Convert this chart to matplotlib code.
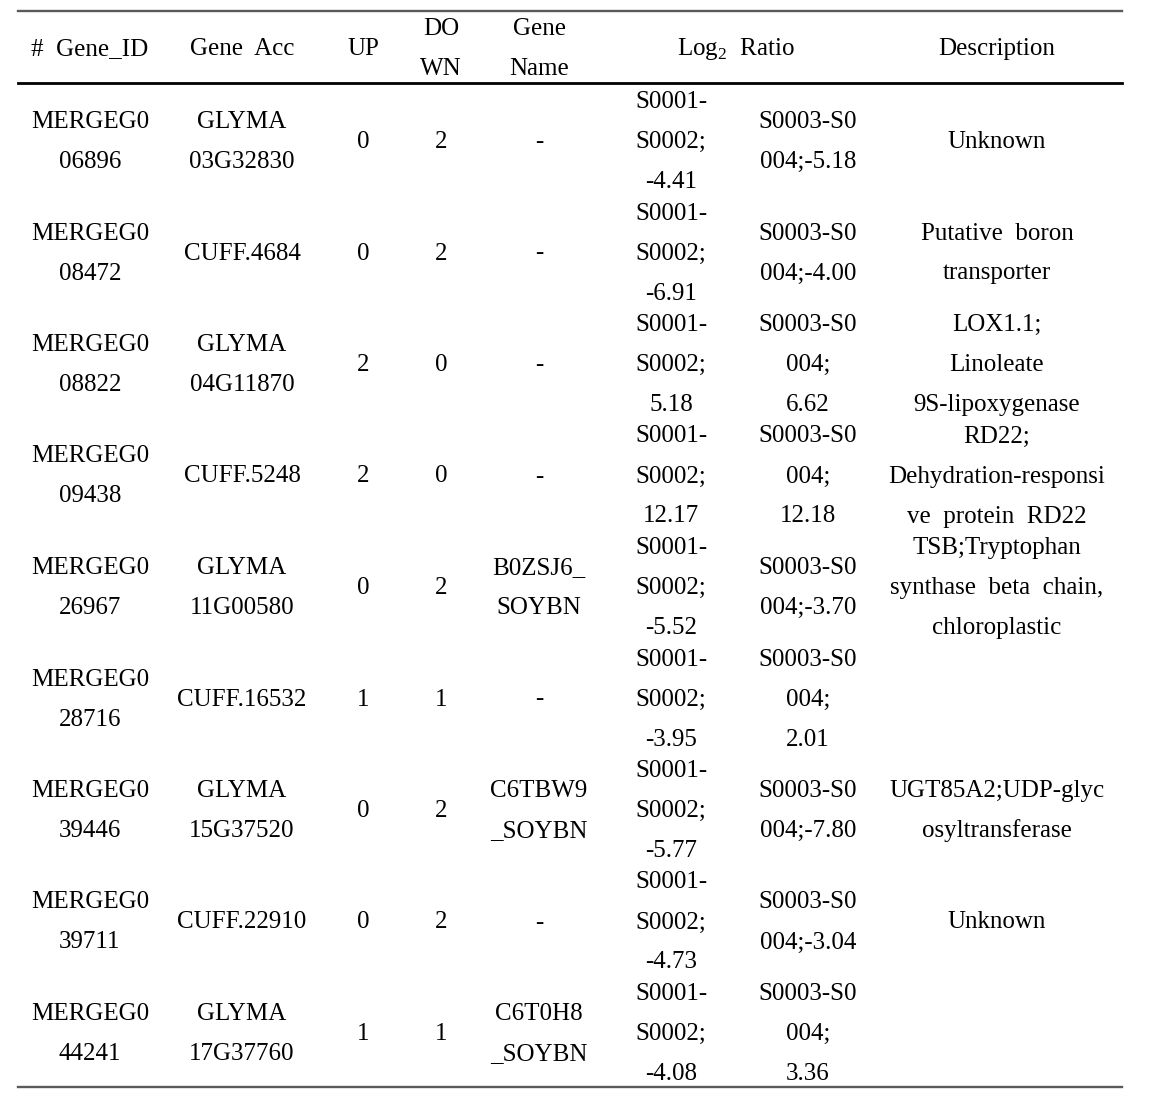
import matplotlib.pyplot as plt

# 表头
headers = [["#  Gene_ID"], ["Gene  Acc"], ["UP"], ["DO", "WN"], ["Gene", "Name"],
           [r"Log$_\mathrm{2}$  Ratio"], ["Description"]]

# 表格数据（每个单元格按行拆分）
gene_ids = [["MERGEG0", "06896"], ["MERGEG0", "08472"], ["MERGEG0", "08822"],
            ["MERGEG0", "09438"], ["MERGEG0", "26967"], ["MERGEG0", "28716"],
            ["MERGEG0", "39446"], ["MERGEG0", "39711"], ["MERGEG0", "44241"]]
gene_accs = [["GLYMA", "03G32830"], ["CUFF.4684"], ["GLYMA", "04G11870"],
             ["CUFF.5248"], ["GLYMA", "11G00580"], ["CUFF.16532"],
             ["GLYMA", "15G37520"], ["CUFF.22910"], ["GLYMA", "17G37760"]]
up = ["0", "0", "2", "2", "0", "1", "0", "0", "1"]
down = ["2", "2", "0", "0", "2", "1", "2", "2", "1"]
gene_names = [["-"], ["-"], ["-"], ["-"], ["B0ZSJ6_", "SOYBN"], ["-"],
              ["C6TBW9", "_SOYBN"], ["-"], ["C6T0H8", "_SOYBN"]]
ratio_12 = ["-4.41", "-6.91", "5.18", "12.17", "-5.52", "-3.95", "-5.77", "-4.73", "-4.08"]
ratio_34 = [["S0003-S0", "004;-5.18"], ["S0003-S0", "004;-4.00"],
            ["S0003-S0", "004;", "6.62"], ["S0003-S0", "004;", "12.18"],
            ["S0003-S0", "004;-3.70"], ["S0003-S0", "004;", "2.01"],
            ["S0003-S0", "004;-7.80"], ["S0003-S0", "004;-3.04"],
            ["S0003-S0", "004;", "3.36"]]
descriptions = [["Unknown"], ["Putative  boron", "transporter"],
                ["LOX1.1;", "Linoleate", "9S-lipoxygenase"],
                ["RD22;", "Dehydration-responsi", "ve  protein  RD22"],
                ["TSB;Tryptophan", "synthase  beta  chain,", "chloroplastic"],
                [], ["UGT85A2;UDP-glyc", "osyltransferase"], ["Unknown"], []]

# 版面参数（像素）
W, H = 1150, 1104
col_x = [90, 242, 363, 441, 539, 671, 808, 997]
header_x = [90, 242, 363, 441, 539, 736, 997]
line_h = 40
row0, row_step = 142, 111.5
fs = 18
serif = ['Liberation Serif', 'DejaVu Serif']

plt.rcParams['font.family'] = serif
plt.rcParams['mathtext.fontset'] = 'custom'
plt.rcParams['mathtext.rm'] = 'Liberation Serif'

fig = plt.figure(figsize=(W / 100, H / 100), dpi=100)
ax = fig.add_axes([0, 0, 1, 1])
ax.set_xlim(0, W)
ax.set_ylim(H, 0)
ax.axis("off")


def cell(x, yc, lines):
    n = len(lines)
    for j, s in enumerate(lines):
        ax.text(x, yc + (j - (n - 1) / 2) * line_h, s, ha="center", va="center",
                fontsize=fs, color="black", family=serif)


# 表格线
ax.plot([18, 1122], [11, 11], color="#5a5a5a", lw=1.7)
ax.plot([18, 1122], [83, 83], color="black", lw=2)
ax.plot([18, 1122], [1087, 1087], color="#5a5a5a", lw=1.7)

for x, h in zip(header_x, headers):
    cell(x, 49, h)

for i in range(len(gene_ids)):
    yc = row0 + i * row_step
    cell(col_x[0], yc, gene_ids[i])
    cell(col_x[1], yc, gene_accs[i])
    cell(col_x[2], yc, [up[i]])
    cell(col_x[3], yc, [down[i]])
    cell(col_x[4], yc, gene_names[i])
    cell(col_x[5], yc, ["S0001-", "S0002;", ratio_12[i]])
    cell(col_x[6], yc, ratio_34[i])
    cell(col_x[7], yc, descriptions[i])

fig.savefig("out.png", dpi=100)
